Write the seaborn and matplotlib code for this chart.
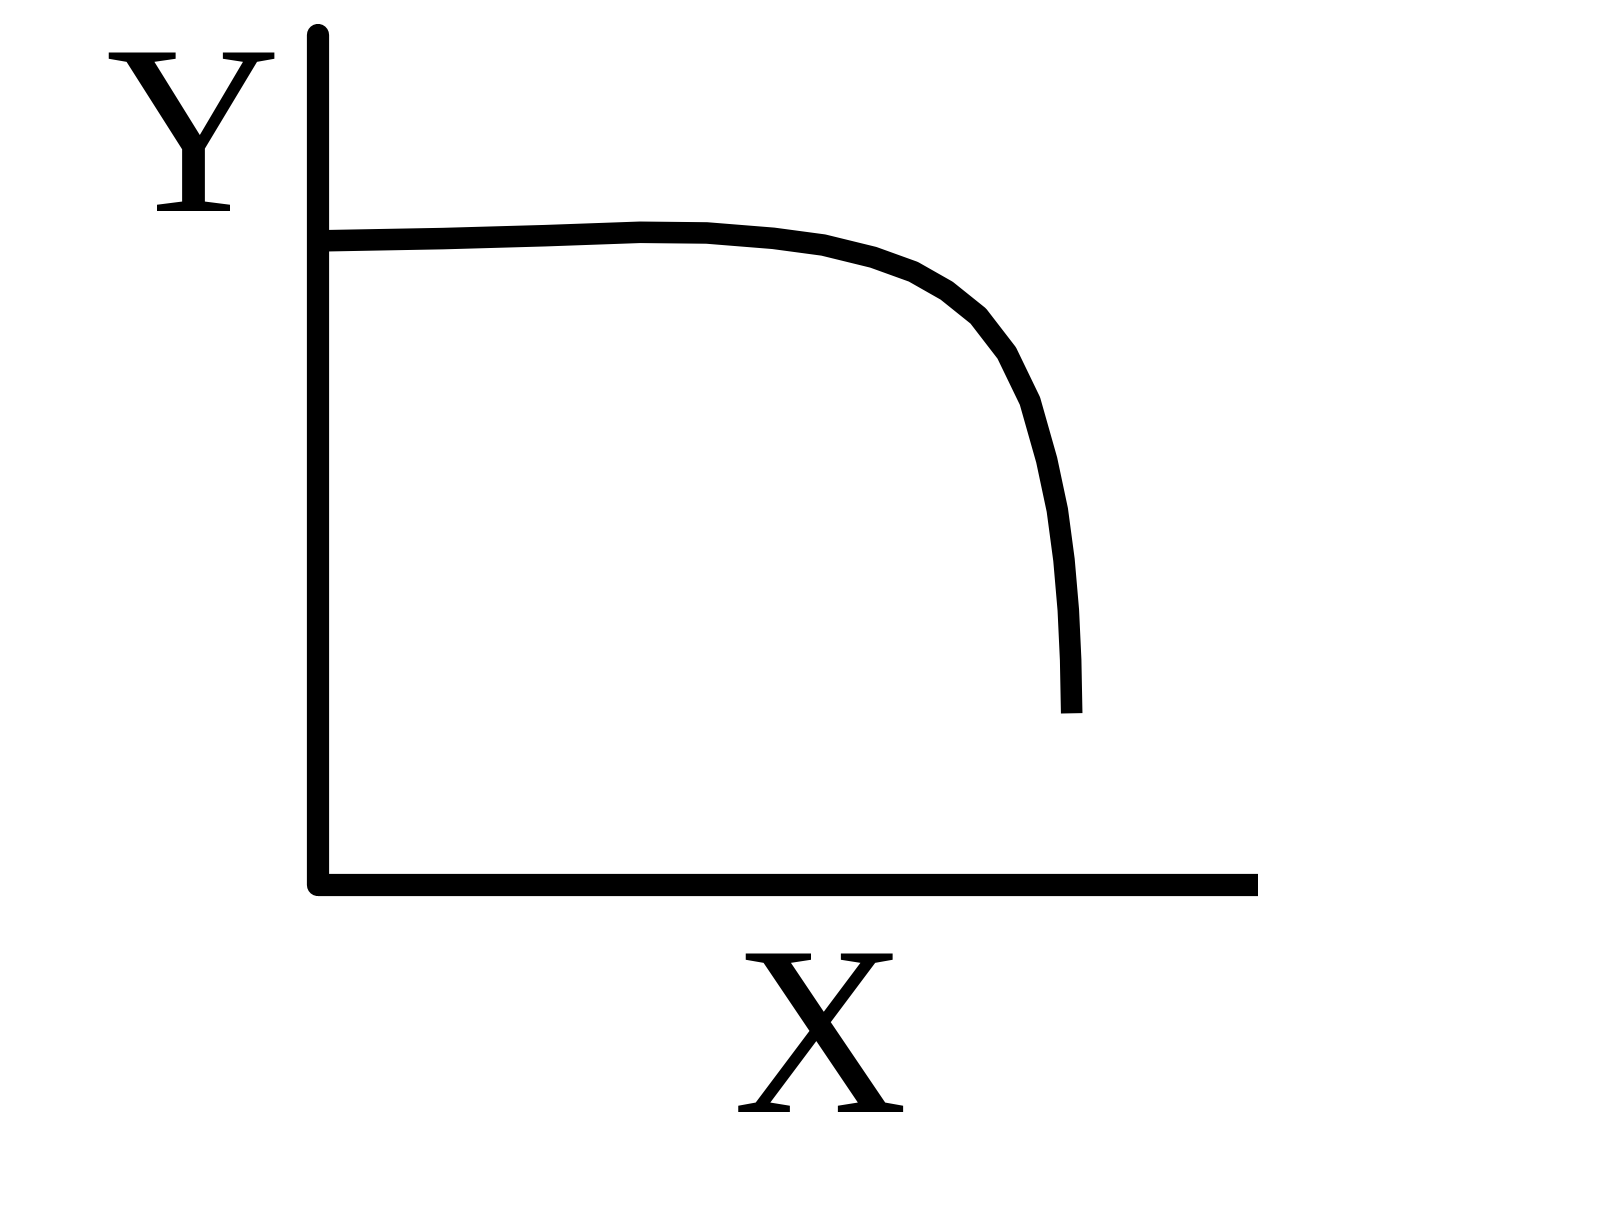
import pandas as pd
import seaborn as sns
from matplotlib import pyplot as plt

# curve (chart units, axes go 0..10 both ways)
curve_x = [0.106, 1.330, 2.415, 3.426, 4.135, 4.844, 5.376, 5.907, 6.333, 6.688,
           7.024, 7.327, 7.574, 7.752, 7.865, 7.936, 7.982, 8.007, 8.018]
curve_y = [7.580, 7.605, 7.639, 7.679, 7.671, 7.608, 7.529, 7.385, 7.215, 6.992,
           6.694, 6.259, 5.694, 5.000, 4.412, 3.824, 3.235, 2.647, 2.020]
x_label = "X"
y_label = "Y"

sns.set_style("white")
plt.rcParams['font.family'] = ['Liberation Serif', 'DejaVu Serif']

df = pd.DataFrame({"x": curve_x, "y": curve_y})

fig = plt.figure(figsize=(16, 12.21), dpi=100)
ax = fig.add_axes([0.19875, 0.27518, 0.5875, 0.69615])

sns.lineplot(data=df, x="x", y="y", sort=False, color="black", linewidth=15.5,
             solid_capstyle="butt", solid_joinstyle="round", ax=ax)

ax.set_xlim(0, 10)
ax.set_ylim(0, 10)
ax.set_xticks([])
ax.set_yticks([])
ax.set_xlabel("")
ax.set_ylabel("")
for s in ["top", "right"]:
    ax.spines[s].set_visible(False)
for s in ["left", "bottom"]:
    ax.spines[s].set_linewidth(16)
    ax.spines[s].set_color("black")
    ax.spines[s].set_capstyle("butt")
ax.spines["left"].set_capstyle("round")

fig.text(0.1206, 0.8272, y_label, ha="center", va="baseline", fontsize=174, color="black")
fig.text(0.5125, 0.0893, x_label, ha="center", va="baseline", fontsize=174, color="black")

plt.savefig("out.png", dpi=100, facecolor="white")
